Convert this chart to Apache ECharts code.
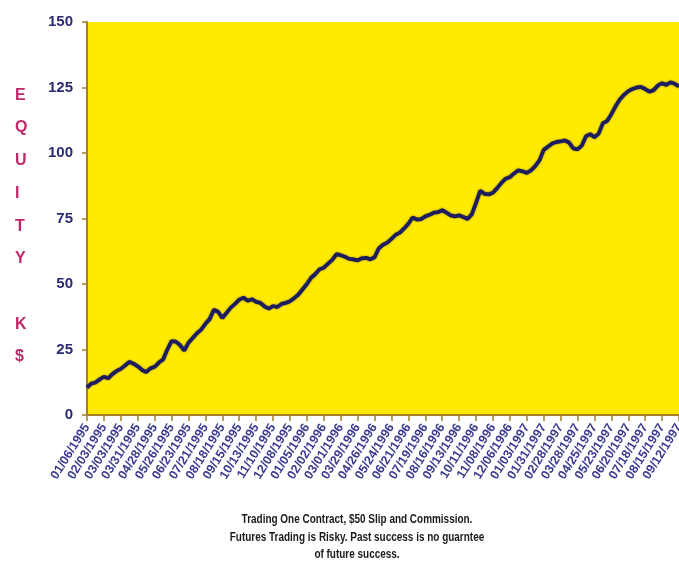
<!DOCTYPE html>
<html>
<head>
<meta charset="utf-8">
<title>Equity Curve</title>
<script src="https://cdn.jsdelivr.net/npm/echarts@6/dist/echarts.min.js"></script>
<style>
  html, body { margin: 0; padding: 0; background: #ffffff; }
  #chart { width: 679px; height: 581px; }
</style>
</head>
<body>
<div id="chart"></div>
<script>
// Account equity in thousands of dollars, one value per weekly close
const equity = [
  10.5, 12.0, 12.4, 13.6, 14.6, 14.0, 15.6, 16.8, 17.6, 18.9,
  20.3, 19.6, 18.6, 17.2, 16.4, 17.8, 18.4, 20.0, 21.2, 25.0,
  28.2, 28.0, 26.7, 24.6, 27.6, 29.4, 31.2, 32.6, 34.8, 36.6,
  40.2, 39.4, 37.0, 39.0, 41.0, 42.4, 44.0, 44.8, 43.6, 44.2,
  43.2, 42.8, 41.4, 40.6, 41.6, 41.2, 42.4, 42.8, 43.4, 44.6,
  46.0, 48.0, 50.0, 52.4, 53.8, 55.6, 56.2, 57.8, 59.2, 61.4,
  61.0, 60.4, 59.6, 59.4, 59.0, 59.8, 60.0, 59.4, 60.2, 63.6,
  65.0, 65.8, 67.2, 68.8, 69.6, 71.2, 73.0, 75.4, 74.6, 74.8,
  75.8, 76.4, 77.2, 77.4, 78.2, 77.2, 76.2, 75.8, 76.2, 75.6,
  74.8, 76.6, 81.0, 85.6, 84.4, 84.2, 84.8, 86.6, 88.6, 90.2,
  90.8, 92.2, 93.4, 93.0, 92.4, 93.4, 95.0, 97.2, 101.2, 102.4,
  103.6, 104.2, 104.4, 104.8, 104.0, 101.8, 101.4, 102.8, 106.4, 107.2,
  106.0, 107.4, 111.4, 112.2, 114.8, 117.8, 120.4, 122.2, 123.6, 124.4,
  125.0, 125.2, 124.4, 123.4, 124.0, 125.8, 126.6, 126.0, 127.0, 126.4,
  125.4
];

// Week-ending dates for each equity value
const startDate = new Date(1995, 0, 6);
const weeks = [];
for (let i = 0; i < equity.length; i++) {
  const d = new Date(startDate.getTime() + i * 7 * 86400000);
  const mm = String(d.getMonth() + 1).padStart(2, '0');
  const dd = String(d.getDate()).padStart(2, '0');
  weeks.push(mm + '/' + dd + '/' + d.getFullYear());
}

const yTicks = { min: 0, max: 150, step: 25 };
const axisTitle = ['E', 'Q', 'U', 'I', 'T', 'Y', '', 'K', '$'];
const footnote = [
  'Trading One Contract, $50 Slip and Commission.',
  'Futures Trading is Risky. Past success is no guarntee',
  'of future success.'
];

const navy = '#2b2b78';
const axisBrown = '#a5802c';
const sans = '"Liberation Sans", Arial, sans-serif';

const chart = echarts.init(document.getElementById('chart'), null, { renderer: 'canvas' });

chart.setOption({
  animation: false,
  backgroundColor: '#ffffff',
  grid: {
    left: 87, right: 0, top: 22, bottom: 166,
    outerBoundsMode: 'none',
    show: true, backgroundColor: '#ffea00', borderWidth: 0
  },
  xAxis: {
    type: 'category',
    data: weeks,
    boundaryGap: false,
    axisLine: { lineStyle: { color: axisBrown, width: 2 } },
    axisTick: { interval: 3, length: 6, lineStyle: { color: axisBrown, width: 1.5 } },
    axisLabel: {
      interval: 3, rotate: 58, margin: 10,
      color: '#3a3a90', fontFamily: sans, fontWeight: 'bold', fontSize: 12.5
    },
    splitLine: { show: false }
  },
  yAxis: {
    type: 'value',
    min: yTicks.min, max: yTicks.max, interval: yTicks.step,
    axisLine: { show: true, lineStyle: { color: axisBrown, width: 2 } },
    axisTick: { show: true, length: 5, lineStyle: { color: axisBrown, width: 1.5 } },
    axisLabel: {
      margin: 14, color: navy, fontFamily: sans, fontWeight: 'bold', fontSize: 15
    },
    splitLine: { show: false }
  },
  series: [{
    type: 'line',
    data: equity,
    showSymbol: false,
    smooth: false,
    lineStyle: {
      color: '#1d1d5e', width: 3.8,
      shadowColor: 'rgba(29,29,94,0.6)', shadowBlur: 2
    }
  }],
  graphic: [
    {
      type: 'text', left: 15, top: 79,
      style: {
        text: axisTitle.join('\n'),
        fill: '#c0266a', font: 'bold 16px ' + sans,
        lineHeight: 32.7, align: 'center'
      }
    },
    ...footnote.map((line, k) => ({
      type: 'text', x: 357, y: 514 + k * 17.5, scaleX: 0.83,
      style: {
        text: line, fill: '#1a1a1a', font: 'bold 12px ' + sans,
        align: 'center', verticalAlign: 'top'
      }
    }))
  ]
});
</script>
</body>
</html>
